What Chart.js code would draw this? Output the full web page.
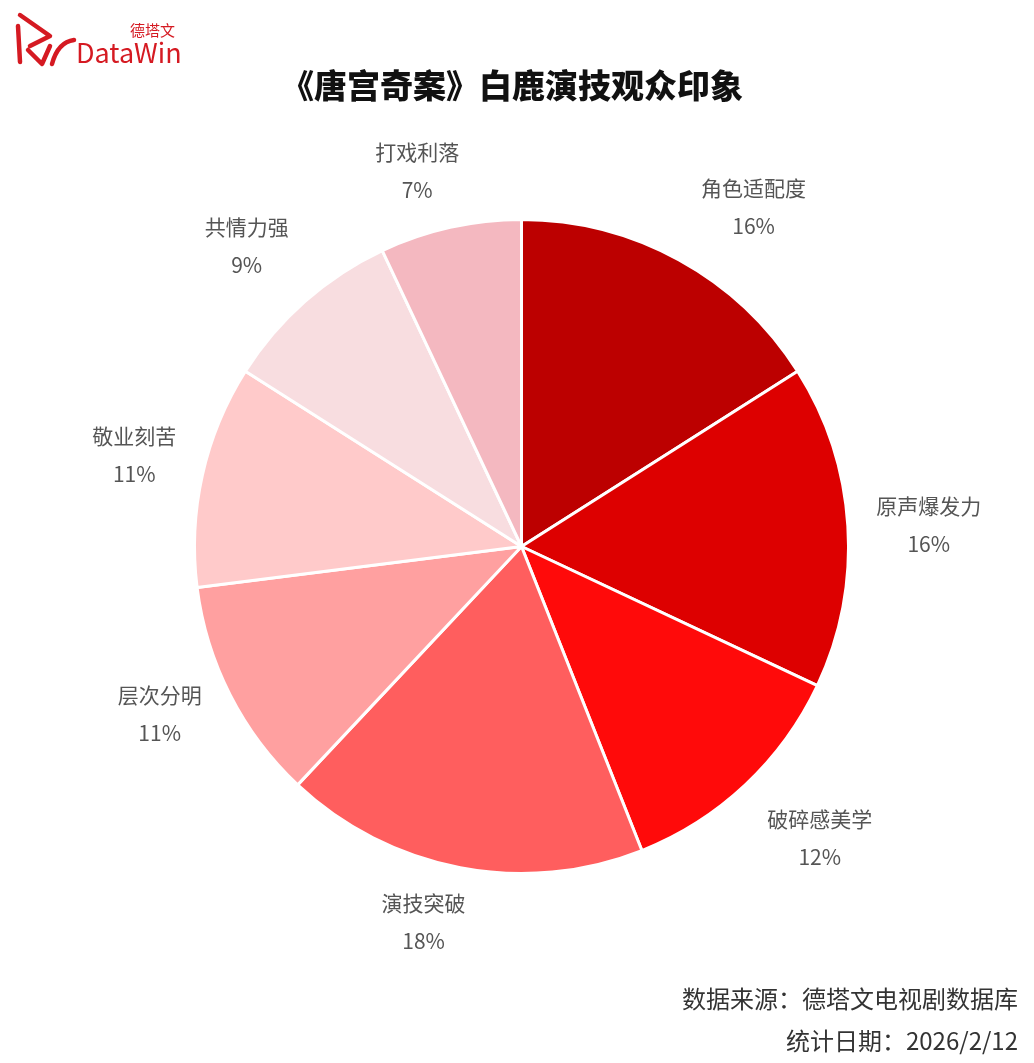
<!DOCTYPE html>
<html lang="zh">
<head>
<meta charset="UTF-8">
<title>唐宫奇案 白鹿演技观众印象</title>
<style>
  html, body { margin: 0; padding: 0; background: #fff; }
  #wrap { width: 1034px; height: 1063px; position: relative; }
</style>
</head>
<body>
<div id="wrap"><canvas id="myChart" width="1034" height="1063"></canvas></div>

<script src="https://cdn.jsdelivr.net/npm/chart.js@4"></script>
<script>
// chart data
const labels = ['角色适配度', '原声爆发力', '破碎感美学', '演技突破', '层次分明', '敬业刻苦', '共情力强', '打戏利落'];
const values = [16, 16, 12, 18, 11, 11, 9, 7];
const colors = ['#BC0000', '#DD0000', '#FF0A0A', '#FF5E5E', '#FFA0A0', '#FFCACA', '#F8DDE0', '#F4B8C0'];

const FONT = '"Noto Sans CJK SC", "Noto Sans", sans-serif';

// small hand tweaks so the labels sit where the original put them
const labelNudge = [[37, 15], [3, 4], [21, -4], [-22, -22], [-1, -16], [8, -3], [-7, 3], [-16, 20]];

// labels outside each slice
const outsideLabels = {
  id: 'outsideLabels',
  afterDatasetsDraw(chart) {
    const ctx = chart.ctx;
    const meta = chart.getDatasetMeta(0);
    ctx.save();
    ctx.textAlign = 'center';
    ctx.textBaseline = 'middle';
    ctx.fillStyle = '#555';
    ctx.font = '21px ' + FONT;
    meta.data.forEach((arc, i) => {
      const p = arc.getProps(['x', 'y', 'startAngle', 'endAngle', 'outerRadius'], true);
      const mid = (p.startAngle + p.endAngle) / 2;
      const r = p.outerRadius + 78;
      const x = p.x + Math.cos(mid) * r + labelNudge[i][0];
      const y = p.y + Math.sin(mid) * r + labelNudge[i][1];
      ctx.fillText(labels[i], x, y - 19);
      ctx.fillText(values[i] + '%', x, y + 19);
    });
    ctx.restore();
  }
};

// title, logo and footer
const decorations = {
  id: 'decorations',
  afterDraw(chart) {
    const ctx = chart.ctx;
    ctx.save();
    // title
    ctx.fillStyle = '#111';
    ctx.textAlign = 'center';
    ctx.textBaseline = 'middle';
    ctx.font = '900 33px ' + FONT;
    ctx.fillText('《唐宫奇案》白鹿演技观众印象', 512, 85);

    // logo
    const red = '#D51A22';
    ctx.strokeStyle = red;
    ctx.fillStyle = red;
    ctx.lineWidth = 4.5;
    ctx.lineCap = 'round';
    ctx.lineJoin = 'round';
    ctx.beginPath();
    ctx.moveTo(20, 15); ctx.lineTo(50, 36); ctx.lineTo(30, 46);
    ctx.moveTo(18, 26); ctx.lineTo(20, 62);
    ctx.moveTo(28, 50); ctx.lineTo(42, 64); ctx.lineTo(50, 46);
    ctx.moveTo(52, 64); ctx.quadraticCurveTo(58, 42, 74, 40);
    ctx.stroke();
    ctx.textAlign = 'left';
    ctx.textBaseline = 'alphabetic';
    ctx.font = '27px ' + FONT;
    ctx.fillText('DataWin', 76, 63);
    ctx.font = '15px ' + FONT;
    ctx.fillText('德塔文', 130, 36);

    // footer
    ctx.fillStyle = '#333';
    ctx.textAlign = 'right';
    ctx.textBaseline = 'middle';
    ctx.font = '24px ' + FONT;
    ctx.fillText('数据来源：德塔文电视剧数据库', 1018, 999);
    ctx.fillText('统计日期：2026/2/12', 1018, 1041);
    ctx.restore();
  }
};

const ctx = document.getElementById('myChart').getContext('2d');
const chart = new Chart(ctx, {
  type: 'pie',
  data: {
    labels: labels,
    datasets: [{
      data: values,
      backgroundColor: colors,
      borderColor: '#fff',
      borderWidth: 3
    }]
  },
  options: {
    responsive: false,
    animation: false,
    layout: { padding: { left: 193, right: 184, top: 218, bottom: 188 } },
    plugins: {
      legend: { display: false },
      tooltip: { enabled: false },
      title: { display: false }
    }
  },
  plugins: [outsideLabels, decorations]
});
</script>
</body>
</html>
